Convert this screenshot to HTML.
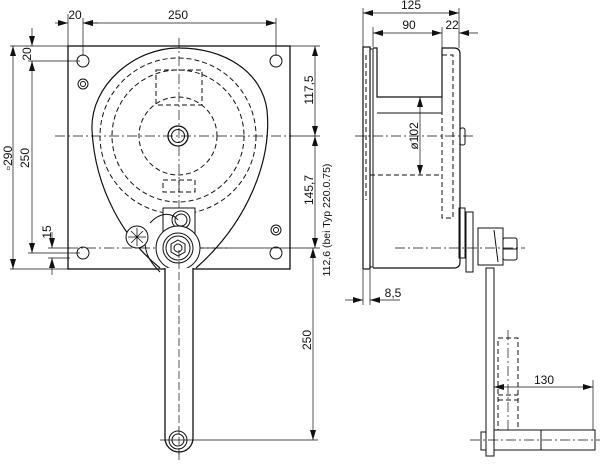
<!DOCTYPE html>
<html><head><style>body{margin:0;background:#fff}svg{display:block}text{font-family:"Liberation Sans",sans-serif;font-size:12px;fill:#111}</style></head>
<body>
<svg width="600" height="464" viewBox="0 0 600 464" xmlns="http://www.w3.org/2000/svg">
<defs><marker id="a" viewBox="0 0 10 6" refX="10" refY="3" markerWidth="10" markerHeight="6" orient="auto-start-reverse" markerUnits="userSpaceOnUse"><path d="M0,0L10,3L0,6z" fill="#111"/></marker></defs>
<g fill="none" stroke="#111" stroke-width="1">
<!-- FRONT VIEW -->
<rect x="68" y="46" width="222" height="223" stroke-width="1.3"/>
<circle cx="83" cy="61" r="6"/><circle cx="276" cy="61" r="6"/><circle cx="83" cy="253" r="6"/><circle cx="276" cy="253" r="6"/>
<circle cx="83" cy="84" r="5"/><circle cx="83" cy="84" r="2.5"/><circle cx="276" cy="230" r="5"/><circle cx="276" cy="230" r="2.5"/>
<path d="M178,48 C225,48 262,72 267,110 C272,160 248,222 196,268 M160,268 C125,240 95,190 92,130 C90,85 135,48 178,48" stroke-width="1.2"/>
<g stroke-dasharray="5,3"><circle cx="178" cy="136" r="39"/><circle cx="178" cy="136" r="66"/><circle cx="178" cy="136" r="78"/>
<rect x="156" y="70" width="46" height="35"/><rect x="163" y="180" width="32" height="12"/><line x1="179" y1="180" x2="179" y2="192"/></g>
<circle cx="178" cy="136" r="10" stroke-width="1.3"/><circle cx="178" cy="136" r="6.5"/>
<g stroke-dasharray="10,3,2,3" stroke-width="0.7"><line x1="55" y1="136" x2="292" y2="136"/><line x1="179" y1="38" x2="179" y2="460"/><line x1="68" y1="248" x2="230" y2="248"/></g>
<!-- crank mechanism -->
<rect x="163" y="208" width="32" height="25" fill="#fff"/>
<circle cx="181" cy="220" r="9" fill="#fff"/><circle cx="181" cy="220" r="6"/>
<path d="M150,223 C160,212 172,212 178,220 M146,230 C142,252 150,262 160,272" />
<circle cx="137" cy="237" r="11" fill="#fff"/><path d="M137,228v18M128,237h18M131,231l12,12M143,231l-12,12" stroke-width="0.8"/>
<circle cx="178" cy="248" r="22" fill="#fff"/><circle cx="178" cy="248" r="15"/><circle cx="178" cy="248" r="12"/>
<path d="M178,240l7,4v8l-7,4l-7,-4v-8z"/><circle cx="178" cy="248" r="4"/>
<path d="M165,268 V438 A14,14 0 0 0 193,438 V268" stroke-width="1.3" fill="#fff"/>
<line x1="179" y1="250" x2="179" y2="455" stroke-dasharray="8,3" stroke-width="0.7"/>
<circle cx="178" cy="440" r="9"/><circle cx="178" cy="440" r="6"/>
<line x1="160" y1="440" x2="318" y2="440" stroke-width="0.7"/>
<!-- front dims -->
<g stroke-width="0.7">
<line x1="68" y1="14" x2="68" y2="46"/><line x1="83" y1="18" x2="83" y2="56"/><line x1="276" y1="18" x2="276" y2="56"/>
<line x1="55" y1="23" x2="68" y2="23" marker-end="url(#a)"/><line x1="98" y1="23" x2="83" y2="23" marker-end="url(#a)"/><line x1="83" y1="23" x2="276" y2="23" marker-start="url(#a)" marker-end="url(#a)"/>
<line x1="10" y1="46" x2="68" y2="46"/><line x1="10" y1="269" x2="68" y2="269"/><line x1="13" y1="46" x2="13" y2="269" marker-start="url(#a)" marker-end="url(#a)"/>
<line x1="28" y1="61" x2="80" y2="61"/><line x1="28" y1="253" x2="80" y2="253"/><line x1="32" y1="61" x2="32" y2="253" marker-start="url(#a)" marker-end="url(#a)"/>
<line x1="32" y1="28" x2="32" y2="46" marker-end="url(#a)"/>
<line x1="48" y1="248" x2="70" y2="248"/><line x1="48" y1="258" x2="70" y2="258"/><line x1="52" y1="232" x2="52" y2="248" marker-end="url(#a)"/><line x1="52" y1="275" x2="52" y2="258" marker-end="url(#a)"/>
<line x1="290" y1="46" x2="320" y2="46"/><line x1="290" y1="136" x2="320" y2="136"/><line x1="200" y1="248" x2="320" y2="248"/>
<line x1="315" y1="46" x2="315" y2="136" marker-start="url(#a)" marker-end="url(#a)"/><line x1="315" y1="136" x2="315" y2="248" marker-start="url(#a)" marker-end="url(#a)"/>
<line x1="313" y1="248" x2="313" y2="440" marker-start="url(#a)" marker-end="url(#a)"/>
</g>
<!-- SIDE VIEW -->
<rect x="363" y="47" width="7" height="222" stroke-width="1.2"/><rect x="370" y="49" width="3" height="218"/>
<path d="M373,48 H377 V97 H442 V48 H454 Q460,48 460,54 V262 Q460,268 454,268 H373" stroke-width="1.2"/>
<line x1="377" y1="113" x2="442" y2="113"/><line x1="442" y1="97" x2="442" y2="113"/>
<g stroke-dasharray="5,3"><rect x="442" y="55" width="11" height="163"/><line x1="370" y1="175" x2="442" y2="175"/><line x1="366" y1="55" x2="366" y2="200"/></g>
<rect x="460" y="128" width="5" height="17" rx="2"/>
<rect x="459" y="208" width="6" height="50"/><rect x="466" y="212" width="7" height="60"/>
<path d="M478,228 H503 V265 H478 Z M494,230 L498,262"/><rect x="503" y="238" width="14" height="22" rx="2"/><line x1="503" y1="249" x2="517" y2="249"/>
<rect x="486" y="268" width="8" height="188"/>
<rect x="481" y="432" width="5" height="18"/>
<rect x="494" y="430" width="47" height="20"/><rect x="541" y="430" width="54" height="20"/>
<g stroke-dasharray="5,3"><rect x="498" y="338" width="20" height="92"/><line x1="498" y1="395" x2="518" y2="395"/><line x1="498" y1="400" x2="518" y2="400"/></g>
<g stroke-dasharray="10,3,2,3" stroke-width="0.7"><line x1="355" y1="136" x2="475" y2="136"/><line x1="395" y1="248" x2="525" y2="248"/><line x1="470" y1="440" x2="600" y2="440"/><line x1="508" y1="330" x2="508" y2="430"/></g>
<!-- side dims -->
<g stroke-width="0.7">
<line x1="363" y1="8" x2="363" y2="47"/><line x1="459" y1="8" x2="459" y2="48"/><line x1="373" y1="27" x2="373" y2="47"/><line x1="442" y1="27" x2="442" y2="97"/>
<line x1="363" y1="13" x2="459" y2="13" marker-start="url(#a)" marker-end="url(#a)"/>
<line x1="373" y1="33" x2="442" y2="33" marker-start="url(#a)" marker-end="url(#a)"/><line x1="459" y1="33" x2="478" y2="33" marker-start="url(#a)"/>
<line x1="420" y1="97" x2="420" y2="175" marker-start="url(#a)" marker-end="url(#a)"/>
<line x1="363" y1="270" x2="363" y2="305"/><line x1="370" y1="270" x2="370" y2="305"/>
<line x1="345" y1="300" x2="363" y2="300" marker-end="url(#a)"/><line x1="400" y1="300" x2="370" y2="300" marker-end="url(#a)"/>
<line x1="494" y1="387" x2="593" y2="387" marker-start="url(#a)" marker-end="url(#a)"/><line x1="593" y1="380" x2="593" y2="430"/>
</g>
</g>
<text x="75" y="19" text-anchor="middle">20</text><text x="178" y="19" text-anchor="middle">250</text>
<text transform="translate(12,158) rotate(-90)" text-anchor="middle">▫290</text>
<text transform="translate(29,158) rotate(-90)" text-anchor="middle">250</text>
<text transform="translate(31,54) rotate(-90)" text-anchor="middle">20</text>
<text transform="translate(51,232) rotate(-90)" text-anchor="middle">15</text>
<text transform="translate(313,90) rotate(-90)" text-anchor="middle">117,5</text>
<text transform="translate(313,190) rotate(-90)" text-anchor="middle">145,7</text>
<text transform="translate(330,220) rotate(-90)" text-anchor="middle" style="font-size:10.5px">112,6 (bei Typ 220.0.75)</text>
<text transform="translate(311,340) rotate(-90)" text-anchor="middle">250</text>
<text x="411" y="9" text-anchor="middle">125</text><text x="409" y="29" text-anchor="middle">90</text><text x="452" y="29" text-anchor="middle">22</text>
<text transform="translate(418,136) rotate(-90)" text-anchor="middle">ø102</text>
<text x="393" y="297" text-anchor="middle">8,5</text><text x="544" y="384" text-anchor="middle">130</text>
</svg>
</body></html>
